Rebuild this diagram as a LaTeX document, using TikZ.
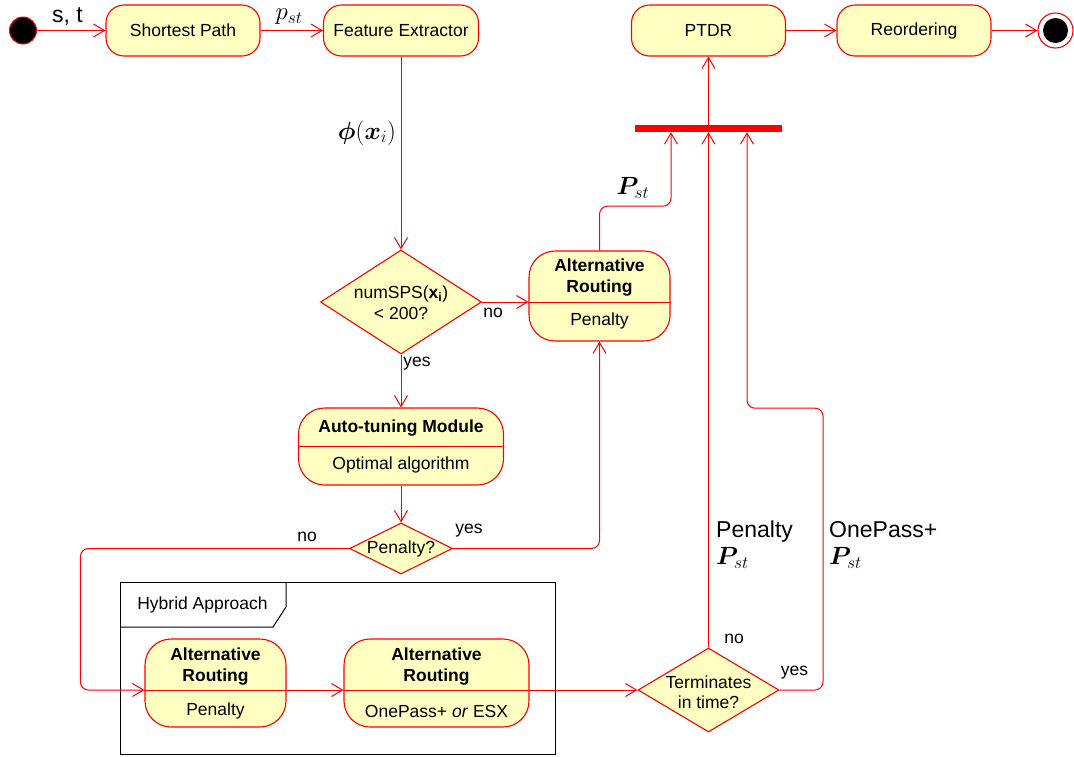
\documentclass[tikz,border=0pt]{standalone}
\usepackage[no-math]{fontspec}
\setmainfont{Liberation Sans}
\usepackage{amsmath,bm}
\usetikzlibrary{arrows.meta,shapes.geometric,calc}
\definecolor{actfill}{RGB}{255,255,194}
\definecolor{umlred}{RGB}{255,0,0}
\tikzset{
  base/.style={font=\fontsize{17.5}{21}\selectfont},
  act/.style={base, draw=umlred, fill=actfill, line width=1.1pt, rounded corners=18pt,
    minimum height=51pt, inner sep=0pt},
  comp/.style={draw=umlred, fill=actfill, line width=1.1pt, rounded corners=26pt, inner sep=0pt},
  dec/.style={diamond, draw=umlred, fill=actfill, line width=1.1pt, inner sep=0pt},
  txt/.style={font=\fontsize{17.5}{21}\selectfont, align=center, inner sep=0pt},
  ttl/.style={font=\fontsize{17.5}{21}\selectfont\bfseries, align=center, inner sep=0pt},
  guard/.style={font=\fontsize{17.5}{21}\selectfont, inner sep=0pt},
  biglab/.style={font=\fontsize{23}{27}\selectfont, inner sep=0pt, align=left},
  mathlab/.style={font=\fontsize{24}{28}\selectfont, inner sep=0pt},
  wire/.style={draw=umlred, line width=1pt},
  flow/.style={wire, -{Straight Barb[length=11pt,width=13pt]}},
  flowr/.style={flow, rounded corners=8pt},
}
\begin{document}
\begin{tikzpicture}[x=1pt,y=-1pt]
\useasboundingbox (0,0) rectangle (1074,756);

% initial and final states
\node[circle, draw=umlred, fill=black, line width=1pt, minimum size=27pt, inner sep=0pt] (start) at (23,30.5) {};
\node[circle, draw=umlred, fill=white, line width=1.1pt, minimum size=35pt, inner sep=0pt] (fin) at (1055.5,30.5) {};
\node[circle, fill=black, minimum size=25pt, inner sep=0pt] (finc) at (fin.center) {};

% top row of actions
\node[act, minimum width=154pt] (sp) at (183,30.5) {Shortest Path};
\node[act, minimum width=155pt] (fe) at (401,30.5) {Feature Extractor};
\node[act, minimum width=154pt] (ptdr) at (708.5,30.5) {PTDR};
\node[act, minimum width=154pt] (reo) at (914,30.5) {Reordering};

% join bar
\node[fill=umlred, minimum width=147pt, minimum height=7pt, inner sep=0pt] (bar) at (708.5,128.5) {};
\coordinate (barL) at ($(bar.south)+(-37.5,0)$);
\coordinate (barR) at ($(bar.south)+(38.5,0)$);

% decisions
\node[dec, minimum width=161pt, minimum height=104pt] (d1) at (401,302) {};
\node[txt] (d1t) at (401,303) {numSPS(\textbf{x}\textsubscript{\textbf{i}})\\< 200?};
\node[dec, minimum width=103pt, minimum height=51pt] (d2) at (401,548.5) {};
\node[txt] (d2t) at (d2.center) {Penalty?};
\node[dec, minimum width=141pt, minimum height=84pt] (d3) at (708.5,690) {};
\node[txt, font=\fontsize{17.5}{20}\selectfont] (d3t) at (708.5,692) {Terminates\\in time?};

% alternative routing (penalty)
\node[comp, minimum width=141pt, minimum height=90pt] (ar1) at (599.5,296) {};
\coordinate (ar1dw) at ($(ar1.west)+(0,6)$);
\coordinate (ar1de) at ($(ar1.east)+(0,6)$);
\draw[wire] (ar1dw) -- (ar1de);
\node[ttl] (ar1t) at (599.5,278) {Alternative\\Routing};
\node[txt] (ar1b) at (599.5,321) {Penalty};

% auto-tuning module
\node[comp, minimum width=205pt, minimum height=77pt] (at) at (401,446.5) {};
\draw[wire] (at.west) -- (at.east);
\node[ttl] (att) at (401,428) {Auto-tuning Module};
\node[txt] (atb) at (401,465) {Optimal algorithm};

% hybrid approach frame
\draw[black, line width=1pt] (120,582) rectangle (555,754);
\draw[black, line width=1pt] (120,627) -- (273,627) -- (286,607) -- (286,582);
\node[txt] (hyb) at (202.5,605) {Hybrid Approach};

\node[comp, minimum width=141pt, minimum height=88pt] (ar2) at (215.5,683) {};
\coordinate (ar2dw) at ($(ar2.west)+(0,7)$);
\coordinate (ar2de) at ($(ar2.east)+(0,7)$);
\draw[wire] (ar2dw) -- (ar2de);
\node[ttl] (ar2t) at (215.5,667) {Alternative\\Routing};
\node[txt] (ar2b) at (215.5,711) {Penalty};

\node[comp, minimum width=185pt, minimum height=88pt] (ar3) at (436.5,683) {};
\coordinate (ar3dw) at ($(ar3.west)+(0,7)$);
\coordinate (ar3de) at ($(ar3.east)+(0,7)$);
\draw[wire] (ar3dw) -- (ar3de);
\node[ttl] (ar3t) at (436.5,667) {Alternative\\Routing};
\node[txt] (ar3b) at (436.5,711) {OnePass+ \textit{or} ESX};

% control flow
\draw[flow] (start.east) -- (sp.west);
\node[biglab] (lst) at (67.5,17) {s, t};
\draw[flow] (sp.east) -- (fe.west);
\node[mathlab] (lpst) at (289,17) {$p_{st}$};
\draw[flow] (fe.south) -- (d1.north);
\node[mathlab] (lphi) at (367,133) {$\boldsymbol{\phi}(\boldsymbol{x}_i)$};

\draw[flow] (d1.east) -- (ar1dw);
\node[guard] (lno1) at (493,313) {no};
\draw[flowr] (ar1.north) |- ($(barL)+(0,74)$) -- (barL);
\node[mathlab] (lP1) at (633,188) {$\boldsymbol{P}_{st}$};

\draw[flow] (bar.north) -- (ptdr.south);
\draw[flow] (ptdr.east) -- (reo.west);
\draw[flow] (reo.east) -- (fin.west);

\draw[flow] (d1.south) -- (at.north);
\node[guard] (lyes1) at (417,364) {yes};
\draw[flow] (at.south) -- (d2.north);
\draw[flowr] (d2.east) -| (ar1.south);
\node[guard] (lyes2) at (469,531) {yes};
\draw[flowr] (d2.west) -| ($(ar2dw)+(-64,0)$) -- (ar2dw);
\node[guard] (lno2) at (307,537) {no};

\draw[flow] (ar2de) -- (ar3dw);
\draw[flow] (ar3de) -- (d3.west);

\draw[flow] (d3.north) -- (bar.south);
\node[guard] (lno3) at (734,639) {no};
\node[biglab, anchor=west] (lpen) at (716,545) {Penalty\\$\boldsymbol{P}_{st}$};
\draw[flowr] (d3.east) -| ($(barR)+(76,276)$) -| (barR);
\node[guard] (lyes3) at (794.5,673) {yes};
\node[biglab, anchor=west] (lop) at (829,545) {OnePass+\\$\boldsymbol{P}_{st}$};
\end{tikzpicture}
\end{document}
